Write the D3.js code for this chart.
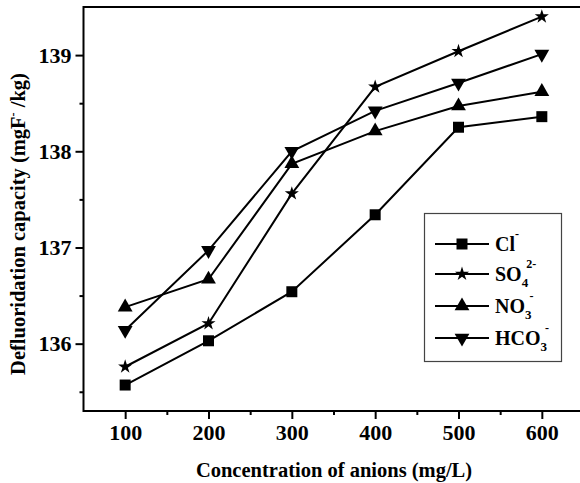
<!DOCTYPE html>
<html>
<head>
<meta charset="utf-8">
<script src="https://cdn.jsdelivr.net/npm/d3@7"></script>
<style>
  html, body { margin: 0; padding: 0; background: #fff; overflow: hidden; }
  svg { display: block; overflow: hidden; }
  text { font-family: "Liberation Serif", "Times New Roman", serif; font-weight: bold; fill: #000; }
</style>
</head>
<body>
<svg id="chart" width="580" height="483"></svg>
<script>
// data
const concentrations = [100, 200, 300, 400, 500, 600];
const clValues   = [135.57, 136.03, 136.54, 137.34, 138.25, 138.36];
const so4Values  = [135.76, 136.21, 137.56, 138.67, 139.04, 139.40];
const no3Values  = [136.38, 136.67, 137.87, 138.21, 138.47, 138.62];
const hco3Values = [136.14, 136.97, 138.00, 138.42, 138.71, 139.01];
const xTicks = [100, 200, 300, 400, 500, 600];
const yTicks = [136, 137, 138, 139];

const series = [
  { key: "cl", values: clValues, symbol: d3.symbolSquare, size: 121, rotate: 0,
    label: [["Cl", 0], ["-", -1]] },
  { key: "so4", values: so4Values, symbol: d3.symbolStar, size: 62, rotate: 0,
    label: [["SO", 0], ["4", 1], ["2-", -1]] },
  { key: "no3", values: no3Values, symbol: d3.symbolTriangle, size: 95, rotate: 0,
    label: [["NO", 0], ["3", 1], ["-", -1]] },
  { key: "hco3", values: hco3Values, symbol: d3.symbolTriangle, size: 95, rotate: 180,
    label: [["HCO", 0], ["3", 1], ["-", -1]] }
];

const svg = d3.select("#chart");
const plotL = 83.5, plotR = 583.5, plotT = 7, plotB = 411;

const x = d3.scaleLinear().domain([50, 650]).range([plotL, plotR]);
const y = d3.scaleLinear().domain([135.3, 139.5]).range([plotB, plotT]);

// frame: left, top and bottom only
svg.append("line").attr("x1", plotL).attr("x2", 580).attr("y1", plotT).attr("y2", plotT)
  .attr("stroke", "#000").attr("stroke-width", 2);
svg.append("line").attr("x1", plotL).attr("x2", 580).attr("y1", plotB).attr("y2", plotB)
  .attr("stroke", "#000").attr("stroke-width", 2);
svg.append("line").attr("x1", plotL).attr("x2", plotL).attr("y1", plotT - 1).attr("y2", plotB + 1)
  .attr("stroke", "#000").attr("stroke-width", 2);

// x axis
svg.append("g").attr("transform", `translate(0,${plotB})`)
  .call(d3.axisBottom(x).tickValues(xTicks).tickSize(8).tickPadding(5).tickFormat(d3.format("d")));
svg.append("g").attr("transform", `translate(0,${plotB})`)
  .call(d3.axisBottom(x).tickValues([150, 250, 350, 450, 550]).tickSize(4).tickFormat(""));

// y axis
svg.append("g").attr("transform", `translate(${plotL},0)`)
  .call(d3.axisLeft(y).tickValues(yTicks).tickSize(8).tickPadding(4).tickFormat(d3.format("d")));
svg.append("g").attr("transform", `translate(${plotL},0)`)
  .call(d3.axisLeft(y).tickValues([135.5, 136.5, 137.5, 138.5]).tickSize(4).tickFormat(""));

svg.selectAll(".domain").remove();
svg.selectAll(".tick line").attr("stroke", "#000").attr("stroke-width", 2);
svg.selectAll(".tick text").style("font-size", "22px")
  .style("font-family", '"Liberation Serif", "Times New Roman", serif').style("font-weight", "bold");

// axis titles
svg.append("text")
  .attr("x", 334).attr("y", 477)
  .attr("text-anchor", "middle").style("font-size", "20.5px")
  .text("Concentration of anions (mg/L)");

let yTitle = svg.append("text")
  .attr("transform", "translate(25,224) rotate(-90)")
  .attr("text-anchor", "middle").style("font-size", "20.5px");
yTitle.append("tspan").text("Defluoridation capacity (mgF");
yTitle.append("tspan").attr("dy", -8).style("font-size", "12px").text("-");
yTitle.append("tspan").attr("dy", 8).text(" /kg)");

// lines and markers
const line = d3.line().x((d, i) => x(concentrations[i])).y(d => y(d));

series.forEach(s => {
  svg.append("path")
    .attr("d", line(s.values))
    .attr("fill", "none").attr("stroke", "#000").attr("stroke-width", 2);

  svg.append("g").selectAll("path")
    .data(s.values)
    .join("path")
    .attr("d", d3.symbol(s.symbol, s.size))
    .attr("transform", (d, i) => `translate(${x(concentrations[i])},${y(d)}) rotate(${s.rotate})`)
    .attr("fill", "#000");
});

// legend
const legend = svg.append("g");
legend.append("rect")
  .attr("x", 424.5).attr("y", 213.5).attr("width", 137).attr("height", 148)
  .attr("fill", "#fff").attr("stroke", "#444").attr("stroke-width", 1.2);

const legendY = [244, 274, 306, 338];
series.forEach((s, k) => {
  let g = legend.append("g").attr("transform", `translate(0,${legendY[k]})`);
  g.append("line").attr("x1", 435).attr("x2", 489)
    .attr("stroke", "#000").attr("stroke-width", 2);
  g.append("path")
    .attr("d", d3.symbol(s.symbol, s.size))
    .attr("transform", `translate(462,0) rotate(${s.rotate})`)
    .attr("fill", "#000");

  let t = g.append("text").attr("x", 495).attr("y", 7).style("font-size", "20px");
  let shift = 0;
  s.label.forEach(([str, pos], j) => {
    let ts = t.append("tspan").text(str);
    if (pos === 0) {
      ts.attr("dy", -shift); shift = 0;
    } else if (pos === 1) {
      ts.attr("dy", 6 - shift).style("font-size", "13px"); shift = 6;
    } else {
      ts.attr("dy", -13 - shift).style("font-size", "12px"); shift = -13;
      if (s.label[j - 1][1] === 1) ts.attr("dx", -2);
    }
  });
});
</script>
</body>
</html>
